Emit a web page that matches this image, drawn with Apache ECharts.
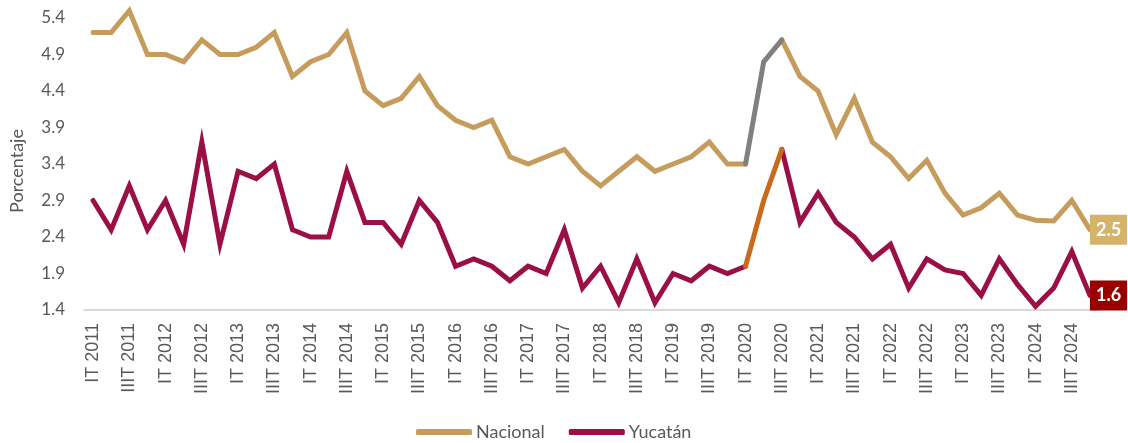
<!DOCTYPE html>
<html>
<head>
<meta charset="utf-8">
<script src="https://cdn.jsdelivr.net/npm/echarts@6/dist/echarts.min.js"></script>
<style>
  html, body { margin: 0; padding: 0; background: #fff; }
  #chart { width: 1128px; height: 443px; }
</style>
</head>
<body>
<div id="chart"></div>
<script>
const quarters = ["IT", "IIT", "IIIT", "IVT"];
const years = [2011, 2012, 2013, 2014, 2015, 2016, 2017, 2018, 2019, 2020, 2021, 2022, 2023, 2024];

// tasa por trimestre; IIT 2020 sin dato en la serie principal
const nacional = [5.2, 5.2, 5.5, 4.9, 4.9, 4.8, 5.1, 4.9, 4.9, 5.0,
  5.2, 4.6, 4.8, 4.9, 5.2, 4.4, 4.2, 4.3, 4.6, 4.2,
  4.0, 3.9, 4.0, 3.5, 3.4, 3.5, 3.6, 3.3, 3.1, 3.3,
  3.5, 3.3, 3.4, 3.5, 3.7, 3.4, 3.4, null, 5.1, 4.6,
  4.4, 3.8, 4.3, 3.7, 3.5, 3.2, 3.45, 3.0, 2.7, 2.8,
  3.0, 2.7, 2.63, 2.62, 2.9, 2.5];
const yucatan = [2.9, 2.5, 3.1, 2.5, 2.9, 2.3, 3.7, 2.3, 3.3, 3.2,
  3.4, 2.5, 2.4, 2.4, 3.3, 2.6, 2.6, 2.3, 2.9, 2.6,
  2.0, 2.1, 2.0, 1.8, 2.0, 1.9, 2.5, 1.7, 2.0, 1.5,
  2.1, 1.5, 1.9, 1.8, 2.0, 1.9, 2.0, null, 3.6, 2.6,
  3.0, 2.6, 2.4, 2.1, 2.3, 1.7, 2.1, 1.95, 1.9, 1.6,
  2.1, 1.75, 1.45, 1.7, 2.2, 1.6];

// tramo IT 2020 - IIIT 2020
const gapStart = 36;
const nacionalGap = [3.4, 4.8, 5.1];
const yucatanGap = [2.0, 2.9, 3.6];

const yTicks = { min: 1.4, max: 5.4, step: 0.5 };

const categories = [];
years.forEach((y) => quarters.forEach((q) => categories.push(q + " " + y)));

function gapData(vals) {
  return categories.map((_, i) =>
    i >= gapStart && i < gapStart + vals.length ? vals[i - gapStart] : null);
}

const endLabel = (bg) => ({
  show: true, distance: 0,
  formatter: (p) => Number(p.value).toFixed(1),
  backgroundColor: bg, color: "#fff",
  fontFamily: "Lato", fontWeight: "bold", fontSize: 18,
  lineHeight: 18, padding: [6, 6, 6, 6],
});

const lineBase = (color) => ({
  type: "line", symbol: "none", connectNulls: false, clip: false,
  lineStyle: { width: 5, color: color, join: "miter", cap: "round" },
  itemStyle: { color: color },
  emphasis: { disabled: true },
});

const chart = echarts.init(document.getElementById("chart"), null, { renderer: "canvas" });

chart.setOption({
  animation: false,
  grid: { left: 78, right: 29, top: 18, bottom: 133, containLabel: false },
  legend: {
    data: ["Nacional", "Yucatán"],
    top: 423, left: 416, padding: 0,
    icon: "roundRect", itemWidth: 56, itemHeight: 6, itemGap: 24,
    textStyle: { fontFamily: "Lato", fontSize: 18, color: "#595959", padding: [0, 0, 0, -1] },
  },
  xAxis: {
    type: "category",
    data: categories,
    boundaryGap: true,
    axisLine: { lineStyle: { color: "#d9d9d9", width: 2 } },
    axisTick: { show: false },
    axisLabel: {
      interval: 1, rotate: 90, margin: 13,
      fontFamily: "Liberation Sans", fontSize: 18, color: "#595959",
    },
  },
  yAxis: {
    type: "value",
    min: yTicks.min, max: yTicks.max, interval: yTicks.step,
    name: "Porcentaje", nameLocation: "middle", nameGap: 58, nameRotate: 90,
    nameTextStyle: { fontFamily: "Lato", fontSize: 18, color: "#595959", padding: [0, 14, 0, 0] },
    axisLine: { show: false },
    axisTick: { show: false },
    splitLine: { show: false },
    axisLabel: {
      margin: 19, fontFamily: "Lato", fontSize: 17, color: "#595959",
      formatter: (v) => v.toFixed(1),
    },
  },
  series: [
    Object.assign(lineBase("#c69c5d"), { name: "Nacional", data: nacional, endLabel: endLabel("#d4b46a") }),
    Object.assign(lineBase("#808080"), { name: "Nacional tramo", data: gapData(nacionalGap) }),
    Object.assign(lineBase("#9b0f47"), { name: "Yucatán", data: yucatan, endLabel: endLabel("#9b0000") }),
    Object.assign(lineBase("#c8691c"), { name: "Yucatán tramo", data: gapData(yucatanGap) }),
  ],
});
</script>
</body>
</html>
